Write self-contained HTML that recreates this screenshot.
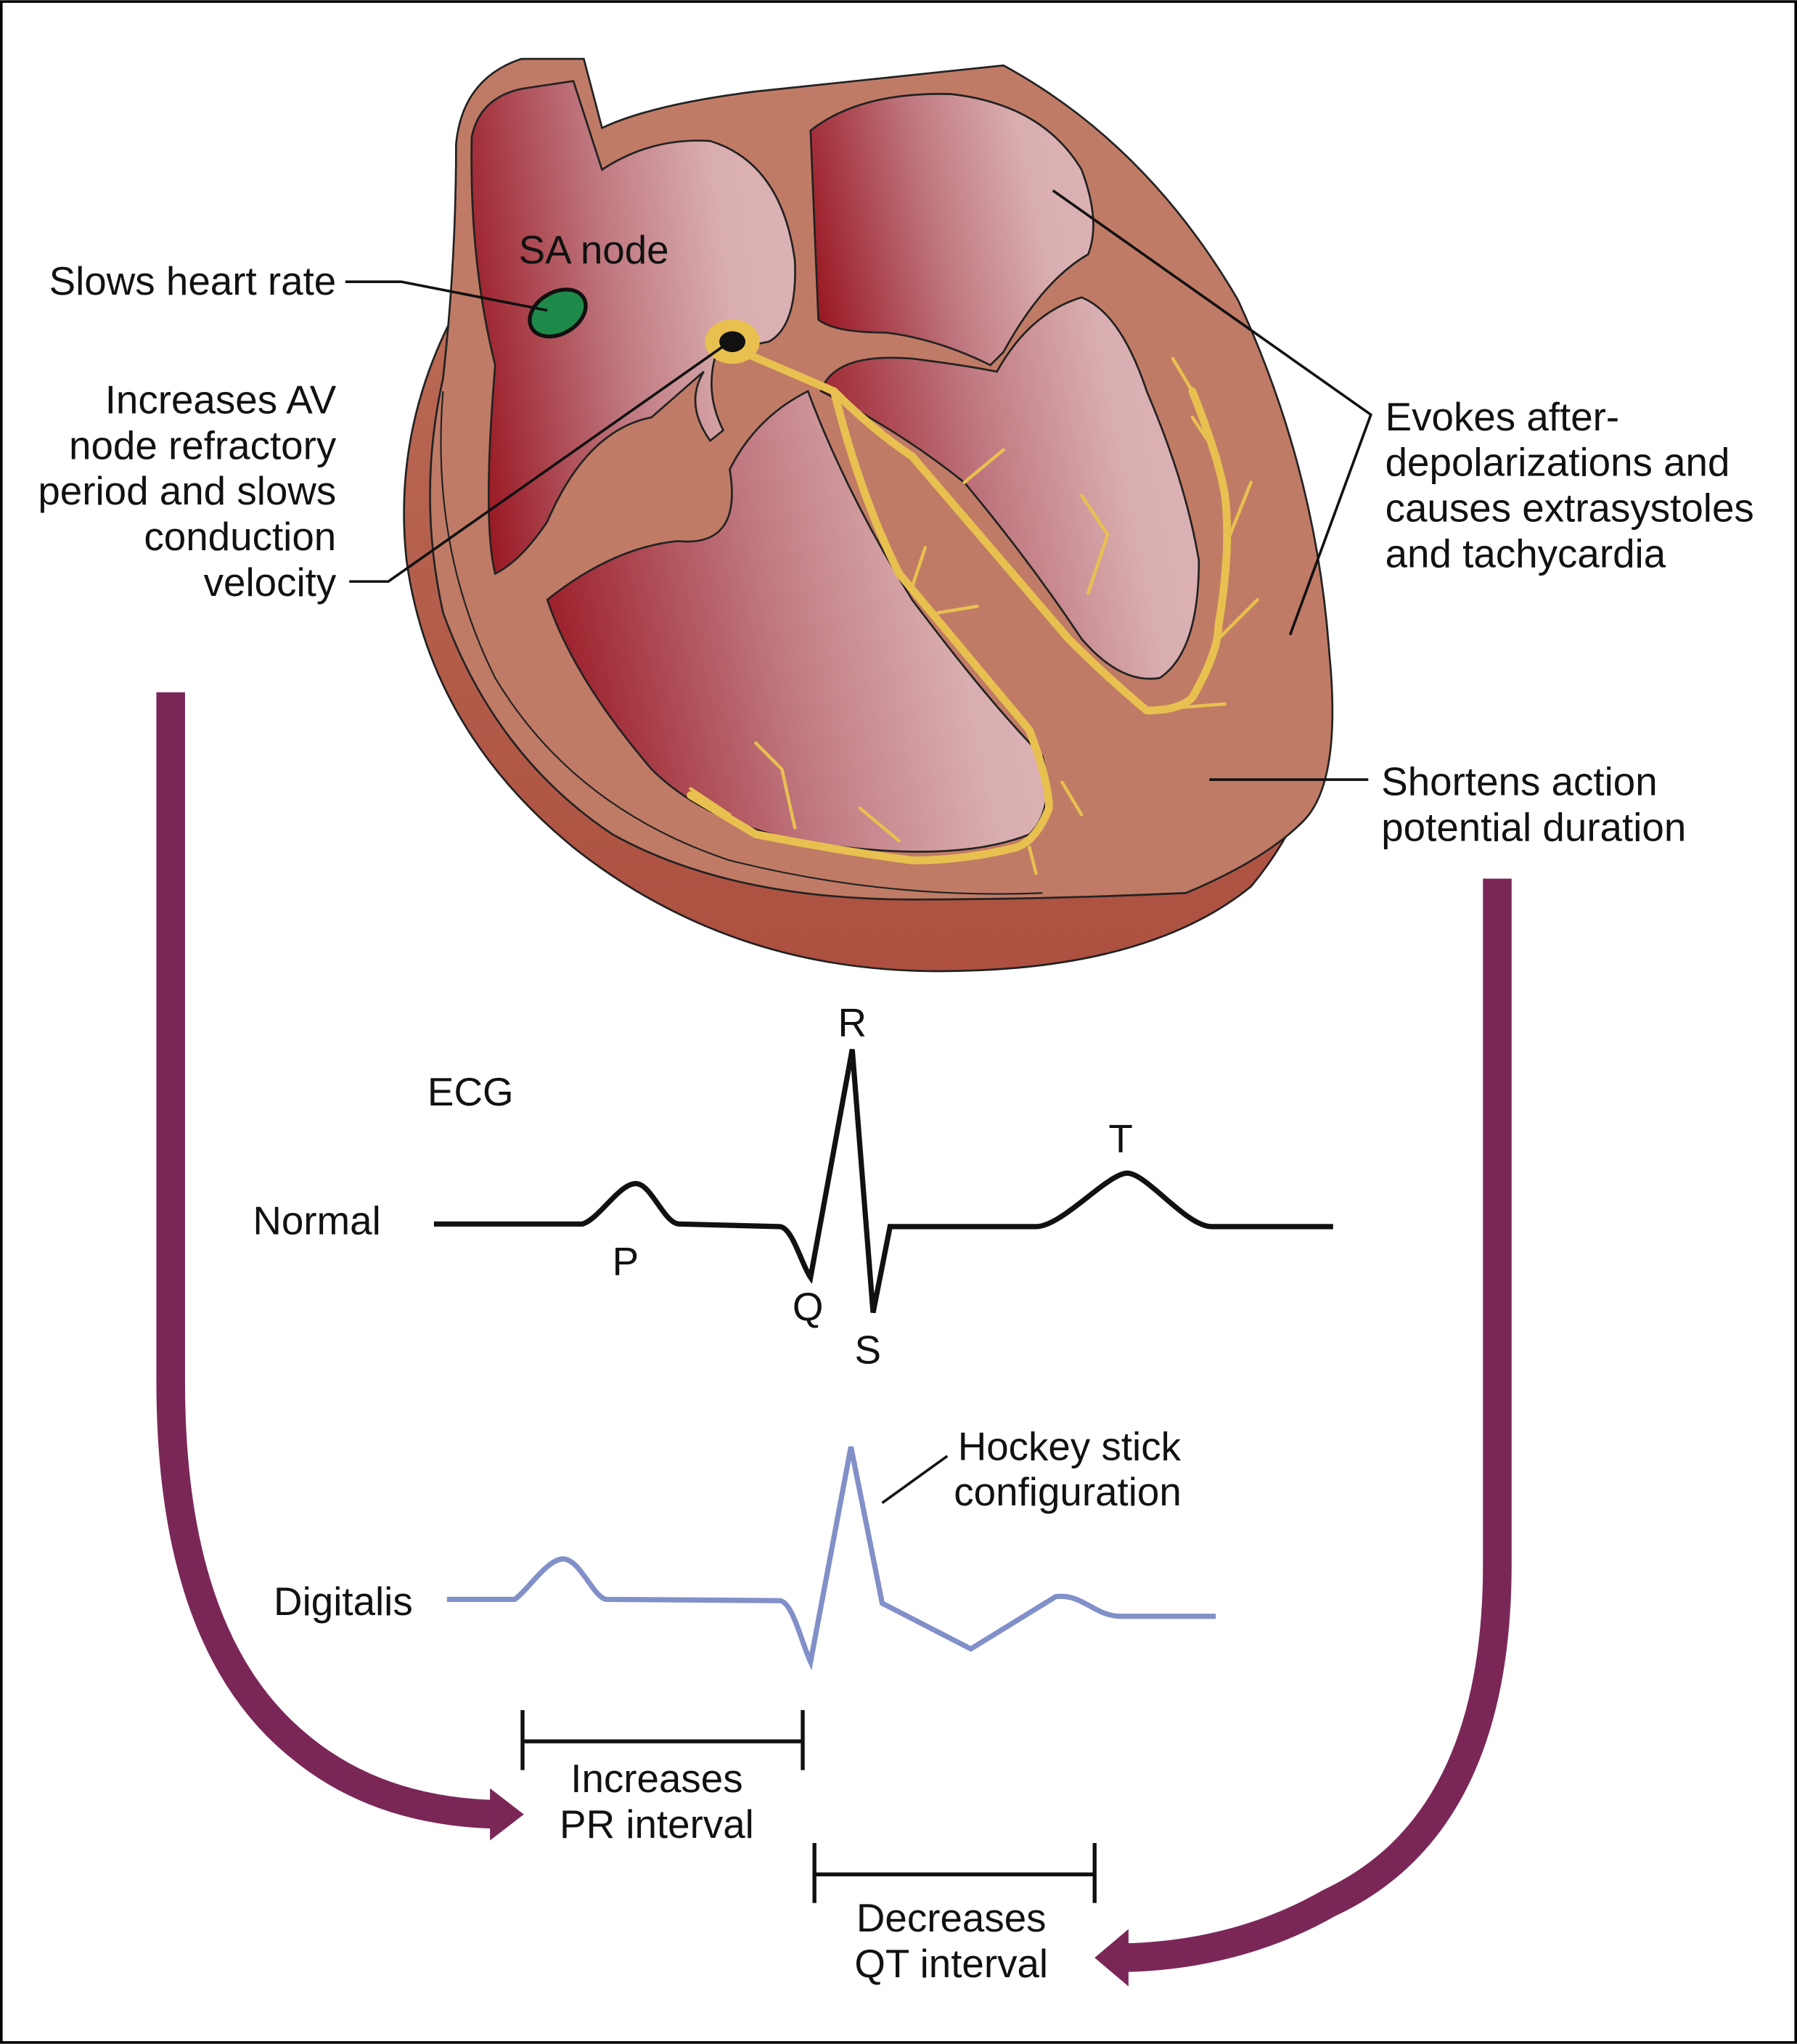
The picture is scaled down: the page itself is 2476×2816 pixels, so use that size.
<!DOCTYPE html>
<html><head><meta charset="utf-8"><style>
html,body{margin:0;padding:0;background:#fff}
svg{display:block}
text{font-family:"Liberation Sans",sans-serif;font-size:30.5px;fill:#111}
</style></head><body>
<svg width="2476" height="2816" viewBox="0 0 1379 1568" xmlns="http://www.w3.org/2000/svg">
<defs>
<linearGradient id="ch" x1="0" y1="0.6" x2="1" y2="0.4">
<stop offset="0" stop-color="#9a1b26"/><stop offset="0.45" stop-color="#c07880"/><stop offset="0.8" stop-color="#d9aeb0"/><stop offset="1" stop-color="#dbb2b4"/></linearGradient>
<linearGradient id="bk" x1="0" y1="0" x2="0" y2="1">
<stop offset="0" stop-color="#b96a55"/><stop offset="1" stop-color="#ad5040"/></linearGradient>
</defs>
<rect x="1" y="1" width="1377" height="1566" fill="#fff" stroke="#000" stroke-width="2"/>

<path d="M360 220 Q300 320 312 430 Q330 560 440 650 Q560 745 720 745 Q880 745 960 680 Q1010 620 1020 540 L900 400 Z" fill="url(#bk)" stroke="#222" stroke-width="1.5"/>
<path d="M350 110 Q355 60 400 45 L448 45 L462 98 Q500 80 580 70 L770 50 Q880 110 950 230 Q1010 360 1020 500 Q1030 600 1000 630 Q970 660 910 685 Q800 690 700 690 Q560 690 470 640 Q380 580 340 470 Q320 380 340 290 Q350 200 350 110 Z" fill="#c07b66" stroke="#222" stroke-width="1.5"/>
<path d="M340 300 Q330 420 380 520 Q440 620 560 660 Q680 690 800 685" fill="none" stroke="#222" stroke-width="1.2"/>

<path d="M362 105 Q368 75 400 68 L440 62 L462 130 Q500 105 545 108 Q600 125 610 200 Q612 250 590 262 L550 270 Q540 300 555 330 L545 338 Q525 310 540 285 L500 320 Q450 330 420 400 Q400 430 380 440 Q370 400 380 280 Q360 200 362 105 Z" fill="url(#ch)" stroke="#222" stroke-width="1.5"/>
<path d="M420 460 Q470 420 520 415 Q570 420 560 360 Q580 320 620 300 Q650 380 700 460 Q760 540 800 580 Q810 620 790 640 Q740 660 650 650 Q550 640 500 590 Q440 520 420 460 Z" fill="url(#ch)" stroke="#222" stroke-width="1.5"/>
<path d="M622 100 Q660 70 730 72 Q800 80 830 130 Q845 170 835 195 Q800 215 770 270 L760 280 Q720 260 680 255 Q640 255 628 245 Z" fill="url(#ch)" stroke="#222" stroke-width="1.5"/>
<path d="M630 300 Q640 270 700 275 Q740 280 765 285 Q790 240 830 228 Q860 240 880 300 Q910 370 920 430 Q920 500 890 520 Q860 525 830 490 Q790 430 740 370 Q690 330 630 300 Z" fill="url(#ch)" stroke="#222" stroke-width="1.5"/>

<g fill="none" stroke="#e8c050" stroke-linecap="round" stroke-linejoin="round">
<path d="M570 270 L640 300 Q670 330 700 350 Q760 420 820 490 Q850 520 880 545 Q905 545 915 535 Q935 500 935 480 Q945 420 940 380 Q935 350 915 300" stroke-width="6"/>
<path d="M640 300 Q660 380 690 440 Q740 500 790 560 Q805 600 805 620 Q795 645 780 650 Q740 660 700 660 Q640 652 580 640 Q555 625 530 610" stroke-width="6"/>
<path d="M740 370 L770 345 M835 455 L850 410 L830 380 M940 420 L960 370 M935 490 L965 460 M915 300 L900 275 M935 350 L915 320 M720 470 L750 465 M700 450 L710 420 M815 600 L830 625 M790 650 L795 670 M610 635 L600 590 L580 570 M560 625 L530 605 M660 620 L690 645 M900 543 L940 540" stroke-width="2.5"/>
</g>
<ellipse cx="562" cy="262" rx="21" ry="17" fill="#e8c050"/>
<ellipse cx="562" cy="262" rx="10" ry="8" fill="#111"/>
<ellipse cx="428" cy="240" rx="23" ry="16" transform="rotate(-30 428 240)" fill="#1e8a4a" stroke="#111" stroke-width="3"/>

<g fill="none" stroke="#111" stroke-width="2">
<path d="M265 216 L308 216 L420 238"/>
<path d="M268 446 L298 446 L560 262"/>
<path d="M808 146 L1052 318 L990 487"/>
<path d="M928 598 L1050 598"/>
<path d="M677 1153 L727 1117"/>
</g>

<text x="398" y="202">SA node</text>
<g text-anchor="end">
<text x="258" y="226">Slows heart rate</text>
<text x="258" y="317">Increases AV</text>
<text x="258" y="352">node refractory</text>
<text x="258" y="387">period and slows</text>
<text x="258" y="422">conduction</text>
<text x="258" y="457">velocity</text>
</g>
<text x="1063" y="330">Evokes after-</text>
<text x="1063" y="365">depolarizations and</text>
<text x="1063" y="400">causes extrasystoles</text>
<text x="1063" y="435">and tachycardia</text>
<text x="1060" y="610">Shortens action</text>
<text x="1060" y="645">potential duration</text>

<text x="328" y="848">ECG</text>
<text x="194" y="947">Normal</text>
<path d="M333 939 L447 939 C460 935 475 908 488 908 C500 908 510 940 522 939 L598 941 C608 941 615 970 622 980 L654 805 L670 1007 L683 941 L795 941 C815 941 850 900 865 900 C880 900 910 941 930 941 L1023 941" fill="none" stroke="#111" stroke-width="4"/>
<g text-anchor="middle">
<text x="654" y="795">R</text>
<text x="480" y="978">P</text>
<text x="620" y="1013">Q</text>
<text x="666" y="1046">S</text>
<text x="860" y="884">T</text>
</g>
<text x="210" y="1239">Digitalis</text>
<path d="M343 1227 L395 1227 C405 1220 420 1196 432 1196 C445 1196 455 1225 465 1227 L598 1228 C608 1228 615 1260 622 1275 L653 1110 L677 1230 L745 1265 L810 1225 C830 1222 840 1240 860 1240 L933 1240" fill="none" stroke="#8190c8" stroke-width="4"/>
<text x="735" y="1120">Hockey stick</text>
<text x="732" y="1155">configuration</text>

<g fill="none" stroke="#111" stroke-width="3">
<path d="M401 1336 L616 1336 M401 1312 L401 1358 M616 1312 L616 1358"/>
<path d="M625 1438 L840 1438 M625 1414 L625 1460 M840 1414 L840 1460"/>
</g>
<g text-anchor="middle">
<text x="504" y="1375">Increases</text>
<text x="504" y="1410">PR interval</text>
<text x="730" y="1482">Decreases</text>
<text x="730" y="1517">QT interval</text>
</g>

<g fill="none" stroke="#7a2758" stroke-width="22">
<path d="M131 531 L131 1060 Q131 1260 230 1340 Q290 1390 382 1392"/>
<path d="M1149 674 L1149 1200 Q1149 1400 1020 1460 Q950 1500 862 1502"/>
</g>
<path d="M376 1372 L402 1392 L376 1412 Z" fill="#7a2758"/>
<path d="M866 1480 L840 1502 L866 1524 Z" fill="#7a2758"/>
</svg>
</body></html>
